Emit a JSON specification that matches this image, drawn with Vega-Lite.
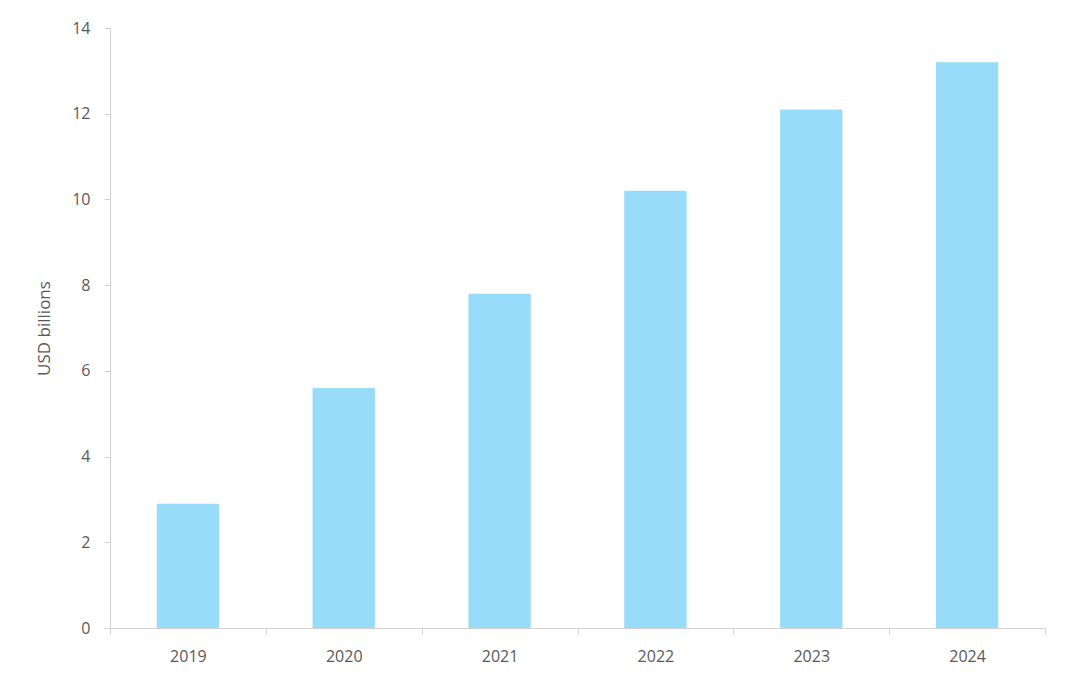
{
  "$schema": "https://vega.github.io/schema/vega-lite/v6.json",
  "width": 935,
  "height": 600,
  "autosize": {"type": "none"},
  "padding": {"left": 110, "top": 28, "right": 29, "bottom": 61},
  "background": "white",
  "data": {"values": [
    {"year": "2019", "value": 2.9},
    {"year": "2020", "value": 5.6},
    {"year": "2021", "value": 7.8},
    {"year": "2022", "value": 10.2},
    {"year": "2023", "value": 12.1},
    {"year": "2024", "value": 13.2}
  ]},
  "mark": {"type": "bar", "color": "#98DCF9", "width": {"band": 0.4}},
  "encoding": {
    "x": {
      "field": "year", "type": "nominal",
      "scale": {"paddingInner": 0, "paddingOuter": 0},
      "axis": {
        "title": null, "labelAngle": 0, "tickBand": "extent",
        "tickSize": 6, "labelPadding": 14,
        "domainColor": "#D0D0D0", "tickColor": "#D0D0D0",
        "labelColor": "#595959", "labelFont": "Open Sans", "labelFontSize": 16
      }
    },
    "y": {
      "field": "value", "type": "quantitative",
      "scale": {"domain": [0, 14]},
      "axis": {
        "title": "USD billions", "values": [0, 2, 4, 6, 8, 10, 12, 14],
        "grid": false, "tickSize": 6, "labelPadding": 14,
        "domainColor": "#D0D0D0", "tickColor": "#D0D0D0",
        "labelColor": "#595959", "labelFont": "Open Sans", "labelFontSize": 16,
        "titleColor": "#595959", "titleFont": "Open Sans", "titleFontSize": 17,
        "titleFontWeight": "normal", "titlePadding": 18
      }
    }
  },
  "config": {"view": {"stroke": null}}
}
